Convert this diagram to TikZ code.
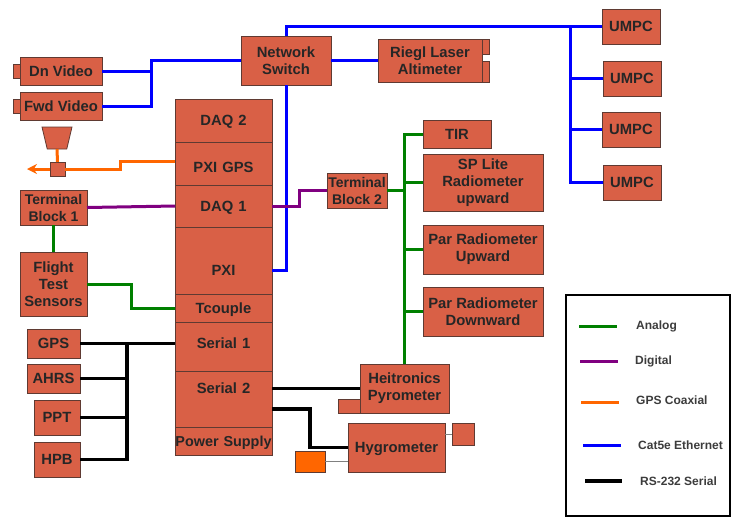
\documentclass[tikz,border=0pt]{standalone}
\usepackage{fontspec}
\usepackage{xcolor}
\usepackage{tikz}
\usetikzlibrary{positioning, calc, shapes.geometric, arrows.meta}
\setmainfont{Liberation Sans}
\definecolor{unitred}{RGB}{217, 96, 70}
\definecolor{unitedge}{RGB}{95, 58, 50}
\definecolor{analoggreen}{RGB}{0, 128, 0}
\definecolor{digitalpurple}{RGB}{128, 0, 128}
\definecolor{coaxorange}{RGB}{255, 102, 0}
\definecolor{keygrey}{RGB}{60, 60, 60}

\begin{document}
\begin{tikzpicture}[x=1pt, y=-1pt, >={Stealth[length=10pt, width=10pt]},
    unit/.style={rectangle, draw=unitedge, fill=unitred, line width=0.8pt, inner sep=0pt, outer sep=0pt, align=center, anchor=north west, text=black!85, font=\fontsize{14.8}{17}\selectfont\bfseries},
    oneline/.style={text height=10.5pt, text depth=0pt},
    cell/.style={unit, oneline, anchor=north, text width=97pt, minimum width=97pt},
    blockfont/.style={font=\fontsize{14}{17}\selectfont\bfseries},
    stub/.style={rectangle, draw=unitedge, fill=unitred, line width=0.8pt, inner sep=0pt, outer sep=0pt, anchor=north west},
    analog/.style={draw=analoggreen, line width=3pt},
    digital/.style={draw=digitalpurple, line width=3pt},
    coax/.style={draw=coaxorange, line width=3pt},
    ethernet/.style={draw=blue, line width=3pt},
    serial/.style={draw=black, line width=3.5pt},
    thinlead/.style={draw=gray, line width=0.8pt},
    keylabel/.style={anchor=west, inner sep=0pt, text=keygrey, font=\fontsize{12}{14}\selectfont\bfseries}]

    \useasboundingbox (0,0) rectangle (735,523);

    % Video and switch
    \node[stub, minimum width=7pt, minimum height=14pt] (dncam) at (13,64) {};
    \node[stub, minimum width=7pt, minimum height=14pt] (fwdcam) at (13,99) {};
    \node[unit, oneline, minimum width=82pt, minimum height=28pt] (dnvideo) at (20,57) {Dn Video};
    \node[unit, oneline, minimum width=82pt, minimum height=28pt] (fwdvideo) at (20,92) {Fwd Video};
    \node[unit, minimum width=90pt, minimum height=49pt] (switch) at (241,36) {Network\\Switch};
    \node[stub, minimum width=7pt, minimum height=15pt] (laserstubone) at (482,39) {};
    \node[stub, minimum width=7pt, minimum height=21pt] (laserstubtwo) at (482,61) {};
    \node[unit, minimum width=104pt, minimum height=43pt] (laser) at (378,39) {Riegl Laser\\Altimeter};

    % UMPCs
    \node[unit, oneline, minimum width=58pt, minimum height=35pt] (umpcone) at (602,9) {UMPC};
    \node[unit, oneline, minimum width=58pt, minimum height=35pt] (umpctwo) at (603,61) {UMPC};
    \node[unit, oneline, minimum width=58pt, minimum height=35pt] (umpcthree) at (602,112) {UMPC};
    \node[unit, oneline, minimum width=58pt, minimum height=35pt] (umpcfour) at (603,165) {UMPC};

    % PXI chassis
    \node[cell, minimum height=43pt] (daqtwo) at (223.5,99) {DAQ 2};
    \node[cell, minimum height=43pt, text height=17pt, below=0pt of daqtwo] (pxigps) {PXI GPS};
    \node[cell, minimum height=42pt, below=0pt of pxigps] (daqone) {DAQ 1};
    \node[cell, minimum height=67pt, text height=29pt, below=0pt of daqone] (pxi) {PXI};
    \node[cell, minimum height=28pt, below=0pt of pxi] (tcouple) {Tcouple};
    \node[cell, minimum height=49pt, text depth=7pt, below=0pt of tcouple] (serialone) {Serial 1};
    \node[cell, minimum height=56pt, text depth=22pt, below=0pt of serialone] (serialtwo) {Serial 2};
    \node[cell, minimum height=28pt, font=\fontsize{14.4}{17}\selectfont\bfseries, below=0pt of serialtwo] (power) {Power Supply};

    % Left side
    \node[trapezium, shape border rotate=180, trapezium stretches=true, trapezium left angle=75, trapezium right angle=75, draw=unitedge, fill=unitred, line width=0.8pt, inner sep=1pt, outer sep=0pt, minimum width=30pt, minimum height=22pt] (horn) at (57,138) {};
    \node[stub, minimum width=15pt, minimum height=14pt] (splitter) at (50,162) {};
    \coordinate (gpsout) at (27,169);
    \node[unit, blockfont, minimum width=67pt, minimum height=35pt] (blockone) at (20,190) {Terminal\\Block 1};
    \node[unit, minimum width=67pt, minimum height=64pt] (sensors) at (20,252) {Flight\\Test\\Sensors};
    \node[unit, oneline, minimum width=53pt, minimum height=29pt] (gps) at (27,329) {GPS};
    \node[unit, oneline, minimum width=53pt, minimum height=29pt] (ahrs) at (27,364) {AHRS};
    \node[unit, oneline, minimum width=46pt, minimum height=35pt] (ppt) at (34,400) {PPT};
    \node[unit, oneline, minimum width=46pt, minimum height=35pt] (hpb) at (34,442) {HPB};

    % Right side
    \node[unit, blockfont, minimum width=60pt, minimum height=35pt] (blocktwo) at (327,173) {Terminal\\Block 2};
    \node[unit, oneline, minimum width=68pt, minimum height=28pt] (tir) at (423,120) {TIR};
    \node[unit, minimum width=120pt, minimum height=57pt] (splite) at (423,154) {SP Lite\\Radiometer\\upward};
    \node[unit, minimum width=120pt, minimum height=49pt] (parup) at (423,225) {Par Radiometer\\Upward};
    \node[unit, minimum width=120pt, minimum height=49pt] (pardown) at (423,287) {Par Radiometer\\Downward};
    \node[stub, minimum width=22pt, minimum height=14pt] (pyrostub) at (338,399) {};
    \node[unit, minimum width=89pt, minimum height=49pt] (pyrometer) at (360,364) {Heitronics\\Pyrometer};
    \node[unit, oneline, minimum width=97pt, minimum height=49pt] (hygrometer) at (348,423) {Hygrometer};
    \node[stub, minimum width=22pt, minimum height=22pt] (hygrostub) at (452,423) {};
    \node[stub, fill=coaxorange, minimum width=30pt, minimum height=21pt] (hygropump) at (295,451) {};

    % Bends and buses
    \coordinate (videobus) at (151,71);
    \coordinate (umpcbus) at (570,26);
    \coordinate (coaxbend) at (120,169);
    \coordinate (sensorbend) at (131,295);
    \coordinate (digitalbend) at (299,198);
    \coordinate (serialbus) at (127,343.5);
    \coordinate (hygrobend) at ($(serialtwo.east)+(38,10)$);

    % Flows
    \draw[ethernet] (dnvideo.east) -- (dnvideo.east -| videobus);
    \draw[ethernet] (fwdvideo.east) -| (videobus |- switch.west) -- (switch.west);
    \draw[ethernet] (switch.north) |- (umpcone.west);
    \draw[ethernet] (switch.south) |- ($(pxi.east)+(0,10)$);
    \draw[ethernet] (switch.east) -- (laser.west);
    \draw[ethernet] (umpcfour.west) -| (umpcbus);
    \draw[ethernet] (umpctwo.west) -- (umpctwo.west -| umpcbus);
    \draw[ethernet] (umpcthree.west) -- (umpcthree.west -| umpcbus);

    \draw[coax, ->] (splitter.west) -- (gpsout);
    \draw[coax] (horn.south) -- (splitter.north);
    \draw[coax] (splitter.east) -- (coaxbend) |- ($(pxigps.west)+(0,-2)$);

    \draw[digital] (blockone.east) -- (daqone.west);
    \draw[digital] (daqone.east) -| (digitalbend) |- (blocktwo.west);

    \draw[analog] (blockone.south) -- (sensors.north);
    \draw[analog] (sensors.east) -| (sensorbend) |- (tcouple.west);
    \draw[analog] (blocktwo.east) -- (blocktwo.east -| pyrometer.north);
    \draw[analog] (tir.west) -| (pyrometer.north);
    \draw[analog] (splite.west) -- (splite.west -| pyrometer.north);
    \draw[analog] (parup.west) -- (parup.west -| pyrometer.north);
    \draw[analog] (pardown.west) -- (pardown.west -| pyrometer.north);

    \draw[serial] (gps.east) -- (gps.east -| serialone.west);
    \draw[serial] (ahrs.east) -- (ahrs.east -| serialbus);
    \draw[serial] (ppt.east) -- (ppt.east -| serialbus);
    \draw[serial] (hpb.east) -| (serialbus);
    \draw[serial] (pyrometer.west -| serialtwo.east) -- (pyrometer.west);
    \draw[serial] ($(serialtwo.east)+(0,10)$) -- (hygrobend) |- (hygrometer.west);

    \draw[thinlead] (hygropump.east) -- (hygropump.east -| hygrometer.west);
    \draw[thinlead] (hygrostub.west) -- (hygrostub.west -| hygrometer.east);

    % Legend
    \node[rectangle, draw=black, line width=2.5pt, outer sep=0pt, anchor=north west, minimum width=164pt, minimum height=221pt] (legend) at (566,295) {};
    \coordinate (analogstart) at (579,326);
    \coordinate (analogend) at (617,326);
    \coordinate (digitalstart) at (580,361);
    \coordinate (digitalend) at (618,361);
    \coordinate (coaxstart) at (581,402);
    \coordinate (coaxend) at (619,402);
    \coordinate (ethernetstart) at (583,445);
    \coordinate (ethernetend) at (621,445);
    \coordinate (serialstart) at (585,481);
    \coordinate (serialend) at (622,481);
    \draw[analog] (analogstart) -- (analogend);
    \draw[digital] (digitalstart) -- (digitalend);
    \draw[coax] (coaxstart) -- (coaxend);
    \draw[ethernet] (ethernetstart) -- (ethernetend);
    \draw[serial] (serialstart) -- (serialend);
    \node[keylabel] (analogkey) at (636,326) {Analog};
    \node[keylabel] (digitalkey) at (635,361) {Digital};
    \node[keylabel] (coaxkey) at (636,400) {GPS Coaxial};
    \node[keylabel] (ethernetkey) at (638,445) {Cat5e Ethernet};
    \node[keylabel] (serialkey) at (640,481) {RS-232 Serial};
\end{tikzpicture}
\end{document}
